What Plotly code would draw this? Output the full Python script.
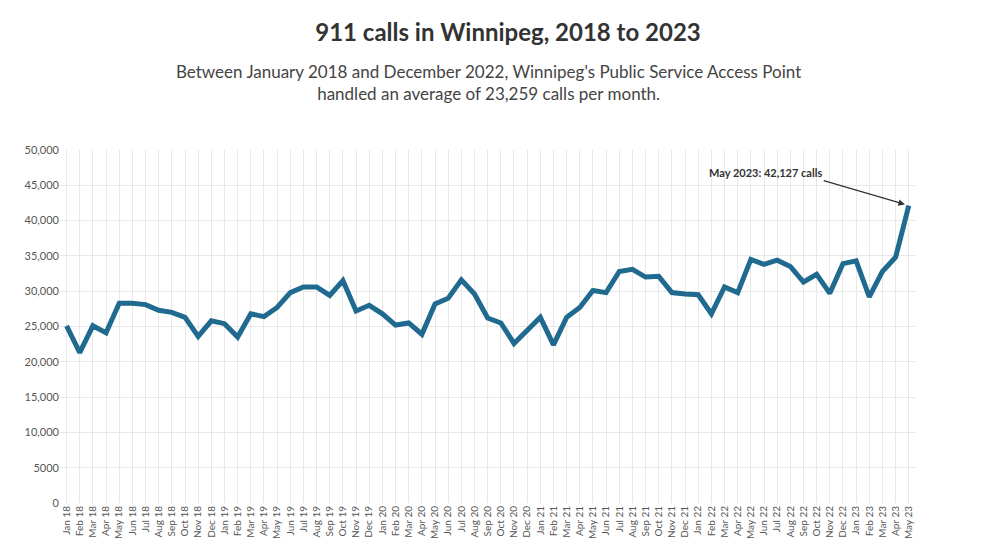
import plotly.graph_objects as go

months = ["Jan 18","Feb 18","Mar 18","Apr 18","May 18","Jun 18","Jul 18","Aug 18","Sep 18","Oct 18","Nov 18","Dec 18",
          "Jan 19","Feb 19","Mar 19","Apr 19","May 19","Jun 19","Jul 19","Aug 19","Sep 19","Oct 19","Nov 19","Dec 19",
          "Jan 20","Feb 20","Mar 20","Apr 20","May 20","Jun 20","Jul 20","Aug 20","Sep 20","Oct 20","Nov 20","Dec 20",
          "Jan 21","Feb 21","Mar 21","Apr 21","May 21","Jun 21","Jul 21","Aug 21","Sep 21","Oct 21","Nov 21","Dec 21",
          "Jan 22","Feb 22","Mar 22","Apr 22","May 22","Jun 22","Jul 22","Aug 22","Sep 22","Oct 22","Nov 22","Dec 22",
          "Jan 23","Feb 23","Mar 23","Apr 23","May 23"]
calls = [25100, 21300, 25100, 24100, 28300, 28300, 28100, 27300, 27000, 26300, 23600, 25800,
         25400, 23500, 26800, 26400, 27700, 29800, 30600, 30600, 29400, 31500, 27200, 28000,
         26800, 25200, 25500, 23900, 28200, 29000, 31600, 29600, 26200, 25500, 22600, 24500,
         26300, 22400, 26300, 27700, 30100, 29800, 32800, 33100, 32000, 32100, 29800, 29600,
         29500, 26800, 30600, 29800, 34500, 33800, 34400, 33500, 31300, 32400, 29700, 33900,
         34300, 29200, 32800, 34800, 42127]
y_ticks = [0, 5000, 10000, 15000, 20000, 25000, 30000, 35000, 40000, 45000, 50000]
y_labels = ["0", "5000", "10,000", "15,000", "20,000", "25,000", "30,000", "35,000", "40,000", "45,000", "50,000"]

fig = go.Figure()
fig.add_trace(go.Scatter(x=months, y=calls, mode="lines",
                         line=dict(color="#1f6a8e", width=5), hoverinfo="x+y"))

fig.add_annotation(x=months[-1], y=calls[-1], ax=-85, ay=-25, xref="x", yref="y",
                   text="<b>May 2023: 42,127 calls</b>", showarrow=True, arrowhead=2,
                   arrowsize=1, arrowwidth=1.3, arrowcolor="#333", standoff=4,
                   font=dict(size=11, color="#333"), xanchor="right", yanchor="bottom")

fig.update_layout(
    width=1000, height=542, template="plotly_white",
    font=dict(family="Lato", color="#555"),
    margin=dict(l=52, r=92, t=142, b=47),
    title=dict(text="<b>911 calls in Winnipeg, 2018 to 2023</b>", x=0.5, y=0.954,
               xref="container", yref="container", xanchor="center", yanchor="middle",
               font=dict(size=24, color="#333")),
    showlegend=False, plot_bgcolor="white",
)
fig.add_annotation(text="Between January 2018 and December 2022, Winnipeg's Public Service Access Point<br>handled an average of 23,259 calls per month.",
                   xref="paper", yref="paper", x=0.5, y=1.19, showarrow=False,
                   font=dict(size=17, color="#444"), yanchor="middle")
fig.update_xaxes(tickangle=-90, tickfont=dict(size=10, color="#555"), showgrid=True,
                 gridcolor="#e8e8e8", zeroline=False, range=[-0.5, len(months) - 0.45],
                 automargin=False)
fig.update_yaxes(range=[0, 50000], tickvals=y_ticks, ticktext=y_labels, automargin=False,
                 tickfont=dict(size=11, color="#555"), gridcolor="#e8e8e8", zeroline=False)

fig.write_html("out.html")
